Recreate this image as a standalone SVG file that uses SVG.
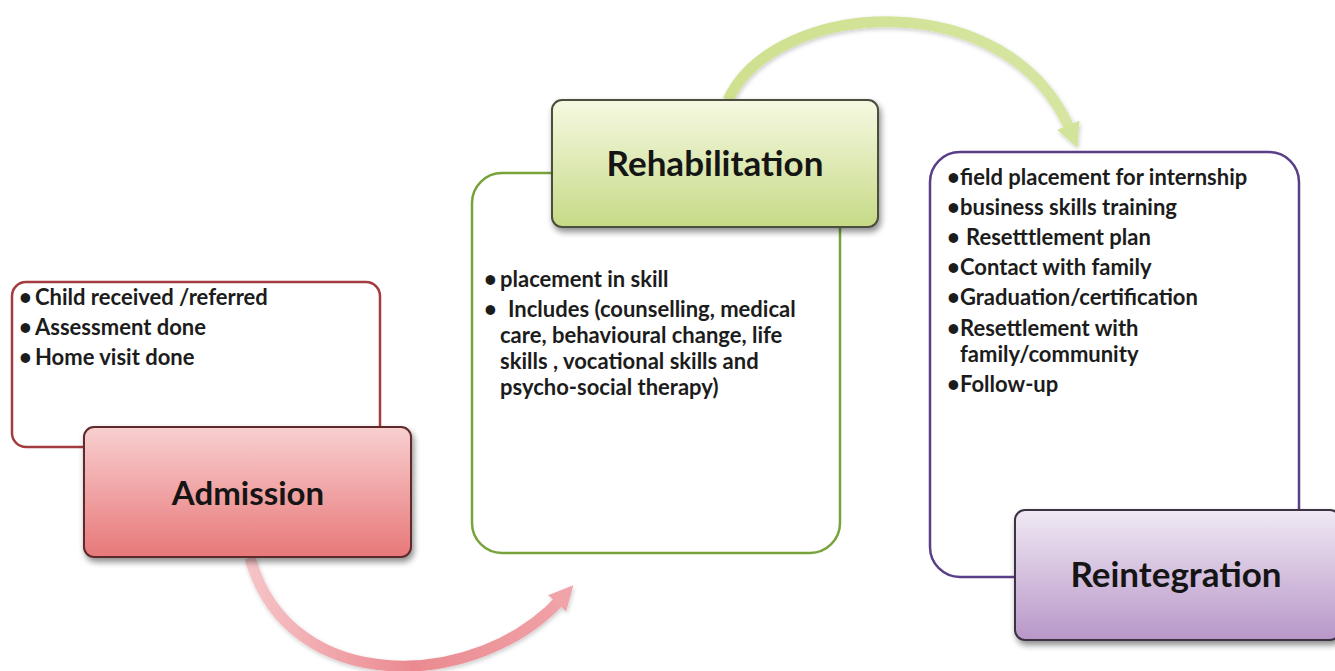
<svg xmlns="http://www.w3.org/2000/svg" width="1335" height="671" viewBox="0 0 1335 671">
<defs>
<style>
.list{font-family:Lato,"Liberation Sans",sans-serif;font-weight:700;font-size:22px;fill:#1c1c1c}
.head{font-family:Lato,"Liberation Sans",sans-serif;font-weight:700;font-size:33px;fill:#151515;text-anchor:middle}
.big{font-size:35px}
.hdr{stroke-width:2}
</style>
<linearGradient id="gRed" x1="0" y1="0" x2="0" y2="1">
<stop offset="0" stop-color="#f8cfd0"/><stop offset="1" stop-color="#e87879"/>
</linearGradient>
<linearGradient id="gGreen" x1="0" y1="0" x2="0" y2="1">
<stop offset="0" stop-color="#f6f9e2"/><stop offset="1" stop-color="#c6da86"/>
</linearGradient>
<linearGradient id="gPurple" x1="0" y1="0" x2="0" y2="1">
<stop offset="0" stop-color="#f0e9f4"/><stop offset="1" stop-color="#b897c8"/>
</linearGradient>
<linearGradient id="aRed" x1="250" y1="0" x2="575" y2="0" gradientUnits="userSpaceOnUse">
<stop offset="0" stop-color="#f6c3c7"/><stop offset="0.5" stop-color="#ea8a90"/><stop offset="1" stop-color="#f0a4a9"/>
</linearGradient>
<linearGradient id="aGreen" x1="725" y1="0" x2="1075" y2="0" gradientUnits="userSpaceOnUse">
<stop offset="0" stop-color="#cfe08f"/><stop offset="1" stop-color="#d6e6a2"/>
</linearGradient>
<filter id="sh" x="-10%" y="-10%" width="130%" height="140%">
<feDropShadow dx="2" dy="4" stdDeviation="3" flood-color="#000" flood-opacity="0.45"/>
</filter>
<filter id="ash" x="-10%" y="-10%" width="130%" height="130%">
<feDropShadow dx="1" dy="2" stdDeviation="2" flood-color="#000" flood-opacity="0.2"/>
</filter>
<marker id="mRed" viewBox="0 0 10 10" refX="3" refY="5" markerWidth="2.2" markerHeight="2.2" orient="auto" markerUnits="strokeWidth">
<path d="M0 0 L10 5 L0 10 Z" fill="#f0a4a9"/>
</marker>
<marker id="mGreen" viewBox="0 0 10 10" refX="3" refY="5" markerWidth="2.2" markerHeight="2.2" orient="auto" markerUnits="strokeWidth">
<path d="M0 0 L10 5 L0 10 Z" fill="#d2e39a"/>
</marker>
</defs>
<rect width="1335" height="671" fill="#ffffff"/>

<g id="connectors" fill="none" filter="url(#ash)">
<path d="M250 558 C290 700 480 690 562 598" stroke="url(#aRed)" stroke-width="11" marker-end="url(#mRed)"/>
<path d="M728 100 C775 -2 1010 -17 1071 132" stroke="url(#aGreen)" stroke-width="11" marker-end="url(#mGreen)"/>
</g>

<g id="admission">
<rect x="12" y="282" width="368" height="165" rx="14" fill="#fff" stroke="#a33c3e" stroke-width="2.5"/>
<text class="list"><tspan x="19" y="305">•</tspan><tspan x="35" y="305">Child received /referred</tspan></text>
<text class="list"><tspan x="19" y="335">•</tspan><tspan x="35" y="335">Assessment done</tspan></text>
<text class="list"><tspan x="19" y="365">•</tspan><tspan x="35" y="365">Home visit done</tspan></text>
<rect x="84" y="427" width="327" height="130" rx="10" fill="url(#gRed)" stroke="#5e2a2c" class="hdr" filter="url(#sh)"/>
<text class="head" x="248" y="505">Admission</text>
</g>

<g id="rehabilitation">
<rect x="472" y="173" width="368" height="380" rx="30" fill="#fff" stroke="#77a33a" stroke-width="2.5"/>
<text class="list"><tspan x="484" y="287">•</tspan><tspan x="500" y="287">placement in skill</tspan></text>
<text class="list"><tspan x="484" y="317">•</tspan><tspan x="508" y="317">Includes (counselling, medical</tspan></text>
<text class="list" x="500" y="343">care, behavioural change, life</text>
<text class="list" x="500" y="369">skills , vocational skills and</text>
<text class="list" x="500" y="395">psycho-social therapy)</text>
<rect x="552" y="100" width="326" height="127" rx="10" fill="url(#gGreen)" stroke="#4b4d3c" class="hdr" filter="url(#sh)"/>
<text class="head big" x="715" y="176">Rehabilitation</text>
</g>

<g id="reintegration">
<rect x="930" y="152" width="369" height="425" rx="30" fill="#fff" stroke="#5a3f88" stroke-width="2.5"/>
<text class="list"><tspan x="947" y="185">•</tspan><tspan x="960" y="185">field placement for internship</tspan></text>
<text class="list"><tspan x="947" y="215">•</tspan><tspan x="960" y="215">business skills training</tspan></text>
<text class="list"><tspan x="947" y="245">•</tspan><tspan x="966" y="245">Resetttlement plan</tspan></text>
<text class="list"><tspan x="947" y="275">•</tspan><tspan x="960" y="275">Contact with family</tspan></text>
<text class="list"><tspan x="947" y="305">•</tspan><tspan x="960" y="305">Graduation/certification</tspan></text>
<text class="list"><tspan x="947" y="336">•</tspan><tspan x="960" y="336">Resettlement with</tspan></text>
<text class="list" x="960" y="362">family/community</text>
<text class="list"><tspan x="947" y="392">•</tspan><tspan x="960" y="392">Follow-up</tspan></text>
<rect x="1015" y="510" width="325" height="130" rx="10" fill="url(#gPurple)" stroke="#3e3342" class="hdr" filter="url(#sh)"/>
<text class="head big" x="1176" y="587">Reintegration</text>
</g>
</svg>
